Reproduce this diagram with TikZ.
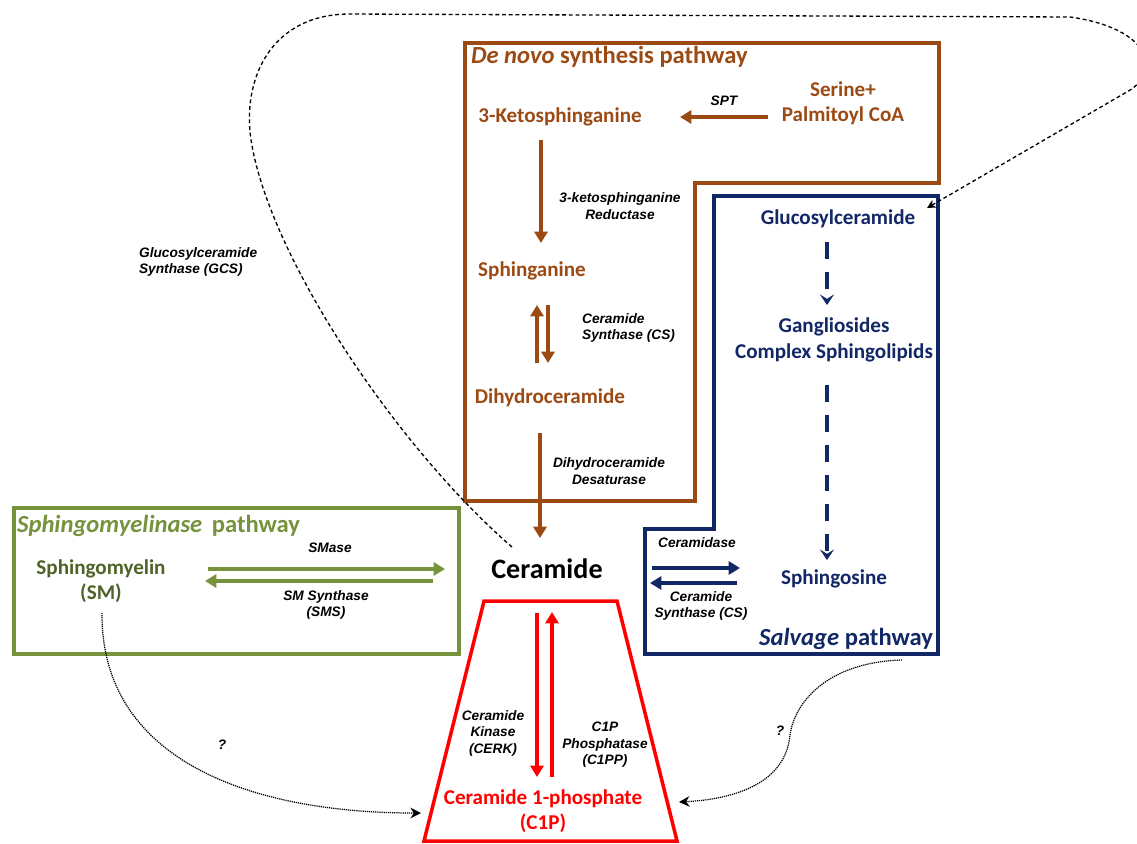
\documentclass[tikz,border=0pt]{standalone}
\usepackage{fontspec}
\setmainfont{Carlito}
\newfontfamily\lblfont{Liberation Sans}
\usepackage{xcolor}
\usepackage{tikz}
\usetikzlibrary{arrows.meta,calc}

\definecolor{brn}{RGB}{156,74,20}
\definecolor{nvy}{RGB}{17,39,102}
\definecolor{olv}{RGB}{118,146,60}
\definecolor{dolv}{RGB}{79,98,40}

\begin{document}
\begin{tikzpicture}[x=0.02cm,y=-0.02cm,
  every node/.style={inner sep=1pt},
  nd/.style={font=\fontsize{12}{14.5}\selectfont\bfseries,align=center},
  ttl/.style={font=\fontsize{14}{16}\selectfont\bfseries,anchor=west},
  enz/.style={font=\lblfont\fontsize{7.8}{9.4}\selectfont\bfseries\itshape,align=center},
  box/.style={line width=2.3pt},
  rx/.style={line width=2.2pt,-{Triangle[length=6.5pt,width=7.5pt]}},
  dx/.style={line width=2.3pt,dash pattern=on 9.6pt off 7.4pt,-{Stealth[length=6pt,width=8pt,inset=2.5pt]}},
  gcs/.style={line width=0.75pt,dash pattern=on 2.2pt off 1.6pt,-{Stealth[length=5pt,width=5pt]}},
  unk/.style={line width=0.7pt,dash pattern=on 0.7pt off 0.5pt,-{Stealth[length=6pt,width=6pt]}}]
 \useasboundingbox (0,0) rectangle (1137,843);
 % pathway boxes
 \draw[box,brn] (465,43) -- (939,43) -- (939,183) -- (695,183) -- (695,501) -- (465,501) -- cycle;
 \draw[box,nvy] (714,196) -- (938,196) -- (938,654) -- (645,654) -- (645,529) -- (714,529) -- cycle;
 \draw[box,olv] (14,508) rectangle (459,654);
 \draw[box,red,line width=2pt] (484,601) -- (617,601) -- (677,841) -- (424,841) -- cycle;
 \node[ttl,brn] (tdn) at (469,57) {\textit{De novo} synthesis pathway};
 \node[ttl,olv] (tsm) at (15,526) {\textit{Sphingomyelinase}\, pathway};
 \node[ttl,nvy,anchor=east] (tsv) at (935,639) {\textit{Salvage} pathway};
 % metabolites
 \node[nd,brn] (ser)  at (843,103) {Serine+\\Palmitoyl CoA};
 \node[nd,brn] (keto) at (560,117) {3-Ketosphinganine};
 \node[nd,brn] (spha) at (532,271) {Sphinganine};
 \node[nd,brn] (dhc)  at (550,398) {Dihydroceramide};
 \node[nd,font=\fontsize{16}{18}\selectfont\bfseries] (cer) at (547,569) {Ceramide};
 \node[nd,nvy] (glc)  at (838,219) {Glucosylceramide};
 \node[nd,nvy] (gang) at (834,340) {Gangliosides\\Complex Sphingolipids};
 \node[nd,nvy] (sphs) at (834,579) {Sphingosine};
 \node[nd,dolv] (sm)  at (101,581) {Sphingomyelin\\(SM)};
 \node[nd,red] (c1p)  at (543,811) {Ceramide 1-phosphate\\(C1P)};
 % enzymes
 \node[enz] (spt)  at (724,101) {SPT};
 \node[enz] (ksr)  at (620,206) {3-ketosphinganine\\Reductase};
 \node[enz,align=left,anchor=west] (cs1) at (580,328) {Ceramide\\Synthase (CS)};
 \node[enz] (des)  at (609,471) {Dihydroceramide\\Desaturase};
 \node[enz,align=left,anchor=west] (gcsl) at (137,262) {Glucosylceramide\\Synthase (GCS)};
 \node[enz] (smase) at (330,548) {SMase};
 \node[enz] (sms)  at (326,605) {SM Synthase\\(SMS)};
 \node[enz] (cdase) at (697,543) {Ceramidase};
 \node[enz] (cs2)  at (701,606) {Ceramide\\Synthase (CS)};
 \node[enz] (cerk) at (493,733) {Ceramide\\Kinase\\(CERK)};
 \node[enz] (c1pp) at (605,745) {C1P\\Phosphatase\\(C1PP)};
 \node[enz] (q1)   at (222,745) {?};
 \node[enz] (q2)   at (780,731) {?};
 \coordinate (svb) at (902,660);
 % de novo route
 \draw[rx,brn] ($(ser)+(-75,14)$) -- ($(keto)+(120,0)$);
 \draw[rx,brn] ($(keto)+(-19,23)$) -- ($(spha)+(9,-28)$);
 \draw[rx,brn] ($(dhc)+(-13,-35)$) -- ($(spha)+(5,34)$);
 \draw[rx,brn] ($(spha)+(16,34)$) -- ($(dhc)+(-2,-35)$);
 \draw[rx,brn] ($(dhc)+(-10,35)$) -- ($(cer)+(-7,-31)$);
 % sphingomyelinase route
 \draw[rx,olv] ($(sm)+(107,-12)$) -- ($(cer)+(-102,0)$);
 \draw[rx,olv] ($(cer)+(-114,12)$) -- ($(sm)+(104,0)$);
 % salvage route
 \draw[rx,nvy] ($(cer)+(105,-1)$) -- ($(sphs)+(-94,-11)$);
 \draw[rx,nvy] ($(sphs)+(-97,4)$) -- ($(cer)+(103,14)$);
 \draw[dx,nvy] ($(glc)+(-11,23)$) -- ($(gang)+(-7,-35)$);
 \draw[dx,nvy] ($(gang)+(-7,45)$) -- ($(sphs)+(-7,-19)$);
 % C1P
 \draw[rx,red] ($(cer)+(-10,44)$) -- ($(c1p)+(-6,-34)$);
 \draw[rx,red] ($(c1p)+(9,-34)$) -- ($(cer)+(5,43)$);
 % GCS loop and unknown routes
 \draw[gcs] ($(cer)+(-35,-22)$) .. controls (400,450) and (270,260) .. (251,140)
   .. controls (242,80) and (270,14) .. (350,14) -- (1070,17)
   .. controls (1150,28) and (1165,72) .. (1125,93) -- ($(glc)+(89,-11)$);
 \draw[unk] ($(sm)+(1,32)$) .. controls (101,760) and (250,813) .. ($(c1p)+(-122,2)$);
 \draw[unk] (svb) .. controls (830,662) and (795,700) .. (790,735)
   .. controls (785,790) and (720,800) .. ($(c1p)+(136,-9)$);
\end{tikzpicture}
\end{document}
